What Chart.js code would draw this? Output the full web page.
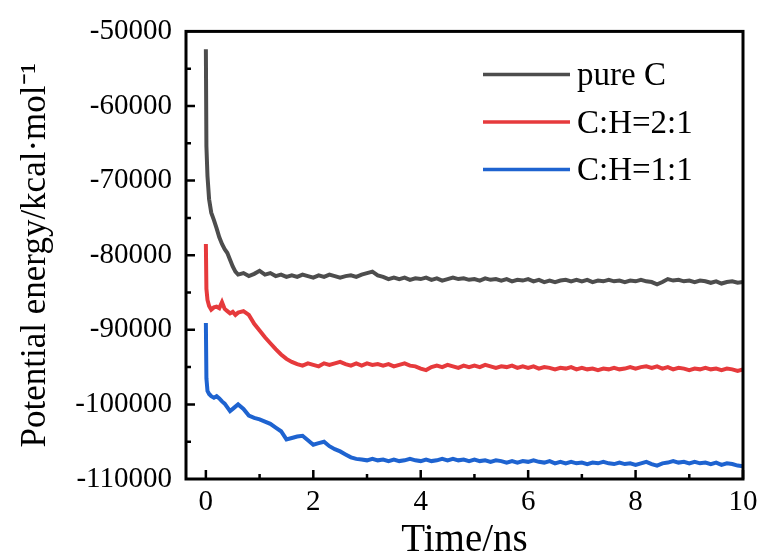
<!DOCTYPE html>
<html>
<head>
<meta charset="utf-8">
<script src="https://cdn.jsdelivr.net/npm/chart.js@4.4.1/dist/chart.umd.min.js"></script>
<style>
  html, body { margin: 0; padding: 0; background: #fff; }
  #wrap { width: 764px; height: 560px; }
</style>
</head>
<body>
<div id="wrap"><canvas id="energyChart" width="764" height="560"></canvas></div>
<script>
// time axis (ns) - dense at the start where the energy drops fast
const timeNs = [
  0, 0.01, 0.03, 0.06, 0.1, 0.15, 0.2, 0.25, 0.3, 0.35, 0.4, 0.45, 0.5, 0.55, 0.6,
  0.7, 0.8, 0.9, 1.0, 1.1, 1.2, 1.3, 1.4, 1.5, 1.6, 1.7, 1.8, 1.9, 2.0,
  2.1, 2.2, 2.3, 2.4, 2.5, 2.6, 2.7, 2.8, 2.9, 3.0, 3.1, 3.2, 3.3, 3.4, 3.5,
  3.6, 3.7, 3.8, 3.9, 4.0, 4.1, 4.2, 4.3, 4.4, 4.5, 4.6, 4.7, 4.8, 4.9, 5.0,
  5.1, 5.2, 5.3, 5.4, 5.5, 5.6, 5.7, 5.8, 5.9, 6.0, 6.1, 6.2, 6.3, 6.4, 6.5,
  6.6, 6.7, 6.8, 6.9, 7.0, 7.1, 7.2, 7.3, 7.4, 7.5, 7.6, 7.7, 7.8, 7.9, 8.0,
  8.1, 8.2, 8.3, 8.4, 8.5, 8.6, 8.7, 8.8, 8.9, 9.0, 9.1, 9.2, 9.3, 9.4, 9.5,
  9.6, 9.7, 9.8, 9.9, 10.0
];

const pureC = [
  -52400, -65400, -69400, -72500, -74300, -75300, -76400, -77600, -78500, -79200, -79700, -80600, -81500, -82200, -82600,
  -82400, -82800, -82500, -82100, -82600, -82400, -82800, -82600, -82900, -82700, -82900, -82600, -82800, -83000,
  -82700, -82900, -82600, -82800, -83000, -82800, -82700, -82900, -82600, -82400, -82200, -82700, -82900, -83200, -83000,
  -83200, -83000, -83300, -83100, -83200, -83000, -83300, -83100, -83400, -83200, -83000, -83200, -83100, -83300, -83200,
  -83400, -83100, -83300, -83200, -83400, -83200, -83500, -83300, -83400, -83200, -83500, -83300, -83600, -83400, -83600,
  -83400, -83300, -83500, -83300, -83500, -83300, -83600, -83400, -83500, -83300, -83500, -83400, -83600, -83400, -83500,
  -83300, -83500, -83600, -83900, -83600, -83200, -83400, -83300, -83500, -83400, -83600, -83400, -83500, -83700, -83500,
  -83800, -83600, -83500, -83700, -83600
];

const ch21 = [
  -78500, -84500, -86000, -86800, -87300, -87000, -86900, -87100, -86300, -87200, -87500, -87800, -87600, -88000, -87700,
  -87500, -88000, -89200, -90100, -91000, -91800, -92600, -93300, -93900, -94300, -94600, -94800, -94500, -94700,
  -94900, -94500, -94700, -94500, -94300, -94600, -94800, -94500, -94800, -94500, -94700, -94600, -94800, -94600, -94900,
  -94700, -94500, -94800, -94900, -95200, -95400, -95000, -94800, -95000, -94700, -94900, -95100, -94800, -95000, -94800,
  -95000, -94700, -94900, -95100, -94900, -95000, -94800, -95100, -94900, -95100, -94900, -95200, -95000, -95100, -95300,
  -95100, -95200, -95000, -95300, -95100, -95300, -95200, -95400, -95200, -95300, -95100, -95300, -95200, -95000, -95200,
  -95000, -94900, -95100, -94900, -95200, -95000, -95300, -95100, -95200, -95400, -95200, -95300, -95100, -95300, -95200,
  -95400, -95200, -95300, -95500, -95300
];

const ch11 = [
  -89100, -96500, -98200, -98600, -98900, -99100, -98900, -99200, -99600, -99900, -100400, -100900, -100600, -100300, -100000,
  -100600, -101500, -101800, -102000, -102300, -102600, -103100, -103600, -104700, -104500, -104300, -104200, -104800, -105400,
  -105200, -105000, -105600, -106000, -106300, -106700, -107100, -107300, -107400, -107500, -107300, -107500, -107400, -107600, -107400,
  -107600, -107500, -107300, -107500, -107600, -107400, -107600, -107500, -107300, -107500, -107300, -107500, -107400, -107600, -107400,
  -107600, -107500, -107700, -107500, -107600, -107800, -107600, -107800, -107600, -107700, -107500, -107700, -107800, -107600, -107900,
  -107700, -107900, -107700, -107900, -107800, -108000, -107800, -107900, -107700, -107900, -108000, -107800, -108000, -107900, -108100,
  -107900, -107700, -108000, -108200, -107900, -107800, -107600, -107800, -107700, -107900, -107700, -107900, -107800, -108000, -107800,
  -108100, -107900, -108000, -108200, -108300
];

const seriesNames = ["pure C", "C:H=2:1", "C:H=1:1"];
const seriesColors = ["#4d4d4d", "#e63a3c", "#1e63d0"];
const xTicks = [0, 2, 4, 6, 8, 10];
const yTicks = [-110000, -100000, -90000, -80000, -70000, -60000, -50000];

function toPoints(values) {
  return values.map((v, i) => ({ x: timeNs[i], y: v }));
}

// box frame + inward major/minor ticks
const frameTicks = {
  id: "frameTicks",
  afterDraw(chart) {
    const { ctx, chartArea: a, scales: { x, y } } = chart;
    ctx.save();
    ctx.strokeStyle = "#000";
    ctx.lineWidth = 2.5;
    ctx.beginPath();
    for (let t = 0; t <= 10; t++) {
      const px = x.getPixelForValue(t);
      const len = t % 2 === 0 ? 9 : 5;
      ctx.moveTo(px, a.bottom);
      ctx.lineTo(px, a.bottom - len);
    }
    for (let v = -105000; v < -50000; v += 5000) {
      const py = y.getPixelForValue(v);
      const len = v % 10000 === 0 ? 9 : 5;
      ctx.moveTo(a.left, py);
      ctx.lineTo(a.left + len, py);
    }
    ctx.stroke();
    ctx.lineWidth = 3;
    ctx.strokeRect(a.left, a.top, a.right - a.left, a.bottom - a.top);
    ctx.restore();
  }
};

// legend drawn inside the plot, top right
const insideLegend = {
  id: "insideLegend",
  afterDraw(chart) {
    const { ctx, chartArea: a } = chart;
    ctx.save();
    ctx.font = "33px 'Liberation Serif'";
    ctx.textBaseline = "middle";
    ctx.textAlign = "left";
    chart.data.datasets.forEach((ds, i) => {
      const yy = a.top + 43 + i * 47.5;
      const x0 = a.left + 297;
      ctx.strokeStyle = ds.borderColor;
      ctx.lineWidth = 3.5;
      ctx.beginPath();
      ctx.moveTo(x0, yy);
      ctx.lineTo(x0 + 87, yy);
      ctx.stroke();
      ctx.fillStyle = "#000";
      ctx.fillText(ds.label, x0 + 94, yy + 2);
    });
    ctx.restore();
  }
};

const datasets = [pureC, ch21, ch11].map((vals, i) => ({
  label: seriesNames[i],
  data: toPoints(vals),
  borderColor: seriesColors[i],
  backgroundColor: seriesColors[i],
  borderWidth: 4,
  pointRadius: 0,
  tension: 0,
  fill: false
}));

new Chart(document.getElementById("energyChart"), {
  type: "line",
  data: { datasets: datasets },
  options: {
    responsive: false,
    animation: false,
    devicePixelRatio: 1,
    layout: { padding: { top: 27, right: 21, left: 0, bottom: 0 } },
    plugins: {
      legend: { display: false },
      tooltip: { enabled: false }
    },
    scales: {
      x: {
        type: "linear",
        min: -0.37,
        max: 10,
        grid: { display: false, drawTicks: false },
        border: { display: false },
        afterBuildTicks: (s) => { s.ticks = xTicks.map((v) => ({ value: v })); },
        afterFit: (s) => { s.height = 81; },
        ticks: {
          color: "#000",
          padding: 6,
          maxRotation: 0,
          font: { family: "'Liberation Serif'", size: 29 }
        },
        title: {
          display: true,
          text: "Time/ns",
          color: "#000",
          padding: { top: 0, bottom: 0 },
          font: { family: "'Liberation Serif'", size: 39, lineHeight: 1 }
        }
      },
      y: {
        min: -110000,
        max: -50000,
        grid: { display: false, drawTicks: false },
        border: { display: false },
        afterBuildTicks: (s) => { s.ticks = yTicks.map((v) => ({ value: v })); },
        afterFit: (s) => { s.width = 186; },
        ticks: {
          color: "#000",
          padding: 14,
          callback: (v) => String(v),
          font: { family: "'Liberation Serif'", size: 29 }
        },
        title: {
          display: true,
          text: "Potential energy/kcal·mol⁻¹",
          color: "#000",
          padding: { top: 15, bottom: 0 },
          font: { family: "'Liberation Serif'", size: 35 }
        }
      }
    }
  },
  plugins: [frameTicks, insideLegend]
});
</script>
</body>
</html>
